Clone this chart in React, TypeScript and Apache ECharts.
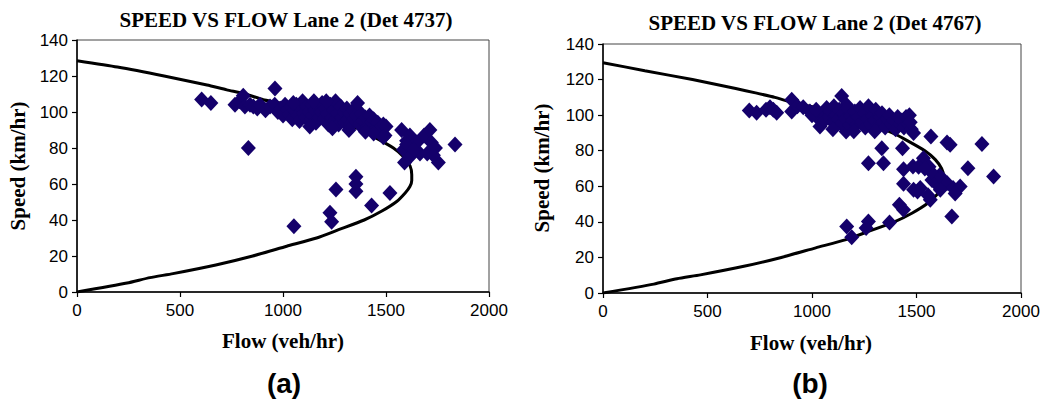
import React, { useEffect, useRef } from "react";
import * as echarts from "echarts";

const titleA = "SPEED VS FLOW Lane 2 (Det 4737)";
const titleB = "SPEED VS FLOW Lane 2 (Det 4767)";
const xName = "Flow (veh/hr)";
const yName = "Speed (km/hr)";

// model curves, [flow, speed]
const curveA: number[][] = [
  [0, 0], [243, 5], [354, 8], [466, 10.2], [674, 15], [853, 20], [1018, 25.4], [1163, 30], [1270, 34.6],
  [1394, 40], [1480, 45], [1552, 50.3], [1593, 55], [1616, 58.6], [1625, 62], [1625, 65.1], [1617, 70],
  [1586, 75], [1536, 80], [1438, 86.4], [1380, 90], [1274, 95], [1135, 100], [986, 105], [904, 106.8],
  [818, 110], [727, 112.3], [631, 115], [423, 120], [196, 125], [0, 128.5],
];
const curveB: number[][] = [
  [0, 0], [243, 5], [354, 8], [466, 10.2], [674, 15], [853, 20], [1018, 25.4], [1163, 30], [1270, 34.6],
  [1394, 40], [1480, 45], [1552, 50.3], [1595, 55], [1620, 58.6], [1630, 62], [1630, 65.5], [1620, 70],
  [1590, 75], [1540, 80], [1445, 86.4], [1385, 90], [1280, 95], [1140, 100], [990, 105], [908, 107],
  [822, 110], [730, 112.5], [635, 115], [428, 120], [200, 125], [0, 129.5],
];

// observed detector data, [flow, speed]
const detA: number[][] = [
  [605, 107], [650, 105], [767, 104], [790, 106], [807, 109], [815, 103], [840, 104], [856, 103], [875, 102],
  [888, 104], [915, 101], [937, 103], [961, 113], [832, 80],
  [960, 104], [975, 100], [990, 102], [1000, 98], [1010, 104], [1020, 101], [1030, 99], [1040, 103], [1045, 96],
  [1055, 101], [1065, 104], [1070, 98], [1080, 95], [1090, 102], [1095, 106], [1100, 99], [1110, 97], [1115, 103],
  [1125, 100], [1130, 95], [1140, 104], [1145, 98], [1155, 101], [1160, 94], [1170, 103], [1175, 97], [1185, 100],
  [1190, 105], [1200, 96], [1205, 102], [1215, 99], [1220, 93], [1230, 104], [1235, 97], [1245, 101], [1250, 95],
  [1255, 106], [1265, 99], [1270, 93], [1280, 103], [1285, 97], [1295, 100], [1300, 94], [1310, 102], [1315, 96],
  [1325, 99], [1330, 93], [1340, 101], [1345, 96], [1355, 98], [1362, 105], [1370, 93], [1380, 99], [1390, 95],
  [1400, 97], [1410, 92], [1420, 98], [1430, 94], [1440, 96], [1450, 91], [1460, 94], [1470, 89], [1480, 92],
  [1487, 93], [1495, 87], [1500, 92], [1050, 105], [1150, 106], [1210, 106], [1130, 92], [1240, 91], [1320, 90],
  [1400, 89], [1440, 88],
  [1576, 90], [1616, 87], [1600, 84], [1650, 83], [1685, 87], [1713, 90], [1720, 83], [1740, 80], [1754, 72],
  [1665, 77], [1585, 79], [1615, 75], [1590, 72], [1600, 82], [1635, 79], [1700, 77], [1730, 76], [1835, 82],
  [1487, 86],
  [1053, 36.5], [1228, 44], [1236, 39], [1257, 57], [1354, 64], [1354, 60], [1354, 56], [1430, 48], [1519, 55],
];
const detB: number[][] = [
  [700, 102.6], [735, 101.4], [780, 103], [799, 104.4], [815, 103], [831, 101.4], [903, 108.6], [903, 102],
  [930, 105], [958, 104.4], [990, 102], [1023, 99], [1038, 93.6], [1142, 110.8], [1166, 105.7], [1163, 90.8],
  [1050, 101], [1060, 97], [1070, 104], [1080, 99], [1090, 102], [1100, 96], [1105, 105], [1115, 100], [1125, 98],
  [1130, 103], [1140, 95], [1150, 101], [1160, 98], [1170, 104], [1180, 94], [1185, 100], [1195, 97], [1205, 102],
  [1215, 95], [1220, 99], [1230, 104], [1240, 96], [1250, 101], [1255, 93], [1265, 98], [1270, 105], [1280, 95],
  [1290, 100], [1300, 97], [1305, 103], [1315, 94], [1325, 99], [1335, 101], [1340, 96], [1350, 93], [1360, 98],
  [1370, 100], [1380, 95], [1390, 97], [1400, 92], [1410, 99], [1420, 95], [1430, 97], [1440, 93], [1450, 99],
  [1460, 95], [1466, 100], [1475, 92], [1486, 90], [1470, 96], [1000, 100], [1020, 103], [1100, 92], [1200, 91],
  [1300, 91],
  [1334, 81.4], [1270, 73], [1342, 73], [1433, 81.4], [1569, 88], [1646, 84.6], [1661, 83.3], [1813, 83.8],
  [1746, 70.2], [1869, 65.5], [1438, 69.6], [1483, 71.1], [1533, 75.8], [1560, 71], [1510, 71], [1438, 61.4],
  [1486, 58], [1518, 59], [1566, 52.4], [1590, 62], [1614, 65], [1574, 63.6], [1646, 61.8], [1675, 59],
  [1709, 59.9], [1685, 56], [1614, 58], [1610, 66], [1570, 68], [1418, 49.6], [1438, 46.8], [1371, 39.7],
  [1270, 40.2], [1259, 36.5], [1166, 37.4], [1190, 31.4], [1669, 43], [1505, 57], [1555, 55], [1540, 70],
];

const NAVY = "#14006b";
const SERIF = "'Liberation Serif', 'Times New Roman', serif";
const SANS = "'Liberation Sans', Arial, sans-serif";

export default function App() {
  const ref = useRef<HTMLDivElement>(null);
  useEffect(() => {
    if (!ref.current) return;
    const chart = echarts.init(ref.current, undefined, { renderer: "svg" });
    const grids = [
      { left: 77, top: 40, width: 412, height: 252 },
      { left: 603, top: 44, width: 418, height: 249 },
    ];
    const xAxis = [0, 1].map((i) => ({
      type: "value",
      gridIndex: i,
      min: 0,
      max: 2000,
      interval: 500,
      axisLine: { show: true, lineStyle: { color: "#000", width: 1.5 } },
      axisTick: { show: true, inside: false, length: 5, lineStyle: { color: "#000", width: 1.2 } },
      axisLabel: { color: "#000", fontSize: 17, fontFamily: SANS, margin: 10, formatter: (v: number) => String(v) },
      splitLine: { show: false },
    }));
    const yAxis = [0, 1].map((i) => ({
      type: "value",
      gridIndex: i,
      min: 0,
      max: 140,
      interval: 20,
      axisLine: { show: true, lineStyle: { color: "#000", width: 1.5 } },
      axisTick: { show: true, inside: false, length: 5, lineStyle: { color: "#000", width: 1.2 } },
      axisLabel: { color: "#000", fontSize: 17, fontFamily: SANS, margin: 9, formatter: (v: number) => String(v) },
      splitLine: { show: false },
    }));
    const text = (x: number, y: number, t: string, font: string, size: number, rot = 0) => ({
      type: "text",
      x,
      y,
      rotation: rot,
      style: {
        text: t,
        fill: "#000",
        font: `bold ${size}px ${font}`,
        textAlign: "center",
        textVerticalAlign: "middle",
      },
    });
    chart.setOption({
      animation: false,
      backgroundColor: "#fff",
      grid: grids.map((g) => ({ ...g, show: true, borderColor: "#444", borderWidth: 1, backgroundColor: "transparent" })),
      xAxis,
      yAxis,
      series: [
        {
          type: "line",
          xAxisIndex: 0,
          yAxisIndex: 0,
          data: curveA,
          smooth: 0.2,
          showSymbol: false,
          lineStyle: { color: "#000", width: 3 },
          z: 2,
        },
        {
          type: "scatter",
          xAxisIndex: 0,
          yAxisIndex: 0,
          data: detA,
          symbol: "diamond",
          symbolSize: [15, 16],
          itemStyle: { color: NAVY, opacity: 1 },
          z: 3,
        },
        {
          type: "line",
          xAxisIndex: 1,
          yAxisIndex: 1,
          data: curveB,
          smooth: 0.2,
          showSymbol: false,
          lineStyle: { color: "#000", width: 3 },
          z: 2,
        },
        {
          type: "scatter",
          xAxisIndex: 1,
          yAxisIndex: 1,
          data: detB,
          symbol: "diamond",
          symbolSize: [15, 16],
          itemStyle: { color: NAVY, opacity: 1 },
          z: 3,
        },
      ],
      graphic: [
        text(286, 20, titleA, SERIF, 21),
        text(815, 23, titleB, SERIF, 21),
        text(18, 166, yName, SERIF, 21, Math.PI / 2),
        text(542, 168, yName, SERIF, 21, Math.PI / 2),
        text(283, 341, xName, SERIF, 21),
        text(811, 343, xName, SERIF, 21),
        text(284, 383, "(a)", SANS, 28),
        text(810, 383, "(b)", SANS, 28),
      ],
    });
    return () => chart.dispose();
  }, []);
  return (
    <div
      ref={ref}
      style={{ position: "fixed", left: 0, top: 0, width: 1043, height: 399, background: "#fff" }}
    />
  );
}
